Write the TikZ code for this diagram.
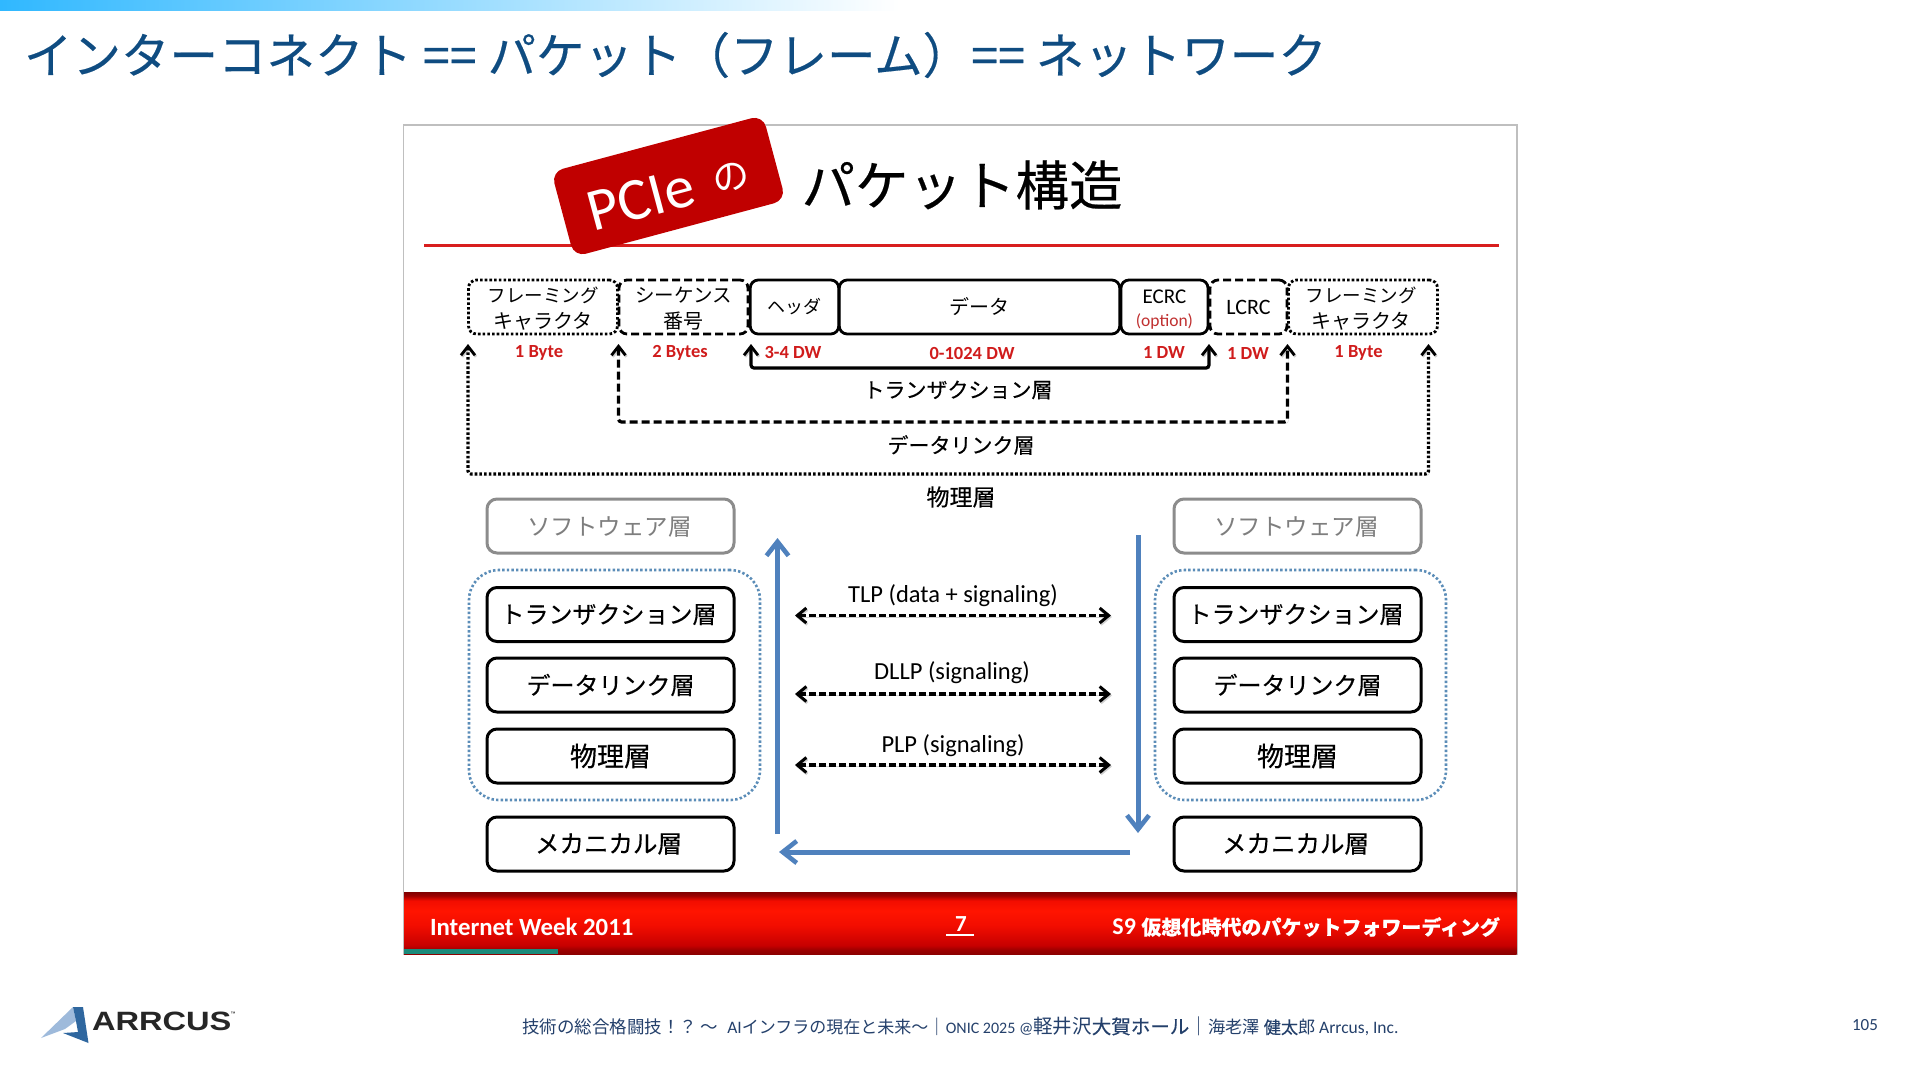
\documentclass[tikz,border=0pt]{standalone}
\usepackage{fontspec}
\setmainfont{Carlito}
\newfontfamily\jpf{Noto Sans CJK JP}
\newfontfamily\jpm[FakeBold=0.35]{Noto Sans CJK JP}
\newfontfamily\arf{Liberation Sans}
\usetikzlibrary{arrows.meta}
\newcommand{\fsz}[1]{\fontsize{#1pt}{#1pt}\selectfont}
\definecolor{titleblue}{HTML}{0F4C81}
\definecolor{footblue}{HTML}{24406B}
\definecolor{tagred}{HTML}{C00000}
\definecolor{linered}{HTML}{D81E1E}
\definecolor{lblred}{HTML}{D01C1C}
\definecolor{softgray}{HTML}{8C8C8C}
\definecolor{arrblue}{HTML}{4F81BD}
\definecolor{dotblue}{HTML}{5B8DB8}
\definecolor{teal}{HTML}{1A8A7A}
\definecolor{bandl}{HTML}{30B8FF}
\definecolor{bandm}{HTML}{A8D8FF}
\pgfdeclareverticalshading{redbar}{100bp}{rgb(0bp)=(.55,0,0);rgb(25bp)=(.55,0,0);rgb(28bp)=(.6,0,0);rgb(32bp)=(.78,0,0);rgb(48bp)=(.95,.05,0);rgb(60bp)=(1,.08,0);rgb(68bp)=(.95,.05,0);rgb(72bp)=(.62,0,0);rgb(75bp)=(.5,0,0);rgb(100bp)=(.5,0,0)}
\tikzset{
  x=1pt,y=-1pt,
  every node/.style={inner sep=0pt,outer sep=0pt},
  pkt/.style={draw=black,line width=2.8pt,rounded corners=8pt,minimum height=54pt,align=center},
  pktsolid/.style={pkt},
  pktdash/.style={pkt,dash pattern=on 8pt off 4pt},
  pktdot/.style={pkt,dash pattern=on 2.6pt off 2.1pt},
  pkttxt/.style={font=\jpf\fsz{20},align=center},
  bytes/.style={text=lblred,font=\bfseries\fsz{18.5}},
  layerlbl/.style={font=\jpm\fsz{21}},
  stackbox/.style={draw=black,line width=3pt,rounded corners=10pt,minimum width=247pt,minimum height=54pt,font=\jpm\fsz{24}},
  softbox/.style={draw=softgray,line width=3pt,rounded corners=10pt,minimum width=247pt,minimum height=54pt},
  softtxt/.style={font=\jpf\fsz{23.5},text=softgray!90!black},
  group/.style={draw=dotblue,line width=2.6pt,dash pattern=on 2.4pt off 2.2pt,rounded corners=30pt,minimum width=291pt,minimum height=230pt},
  shadowed/.style={preaction={draw=black,opacity=.18,transform canvas={shift={(1pt,-1.5pt)}}}},
  linksolid/.style={line width=3.2pt,rounded corners=3pt,{Straight Barb[length=9pt,width=14pt,line width=2.8pt]}-{Straight Barb[length=9pt,width=14pt,line width=2.8pt]},shadowed},
  linkdash/.style={linksolid,dash pattern=on 8pt off 4pt},
  linkdot/.style={linksolid,dash pattern=on 2.6pt off 2.1pt},
  peer/.style={line width=3.4pt,dash pattern=on 7pt off 3pt,{Straight Barb[length=9pt,width=15pt,line width=3pt]}-{Straight Barb[length=9pt,width=15pt,line width=3pt]},shadowed},
  peerlbl/.style={font=\fsz{24.5}},
  flow/.style={draw=arrblue,line width=5pt,-{Straight Barb[length=14pt,width=22pt,line width=4.6pt]}}
}
\begin{document}
\begin{tikzpicture}
\useasboundingbox (0,0) rectangle (1920,1080);
\fill[white] (0,0) rectangle (1920,1080);
% top band
\shade[left color=bandl,middle color=bandm,right color=white] (0,0) rectangle (900,10);
% page title
\node[anchor=west,text=titleblue,font=\jpm\fsz{48.5}] (pagetitle) at (24,55) {インターコネクト == パケット（フレーム）== ネットワーク};
% slide
\draw[draw=black!25,line width=1.5pt,fill=white] (403.5,125) rectangle (1517,954);
\draw[draw=linered,line width=3.5pt] (424,245.5) -- (1499,245.5);
\node[fill=tagred,rounded corners=12pt,rotate=15,minimum width=219pt,minimum height=88pt] (tag) at (668.5,186) {};
\node[rotate=15,text=white,font=\fsz{60}] (tagpcie) at (641,199) {PCIe};
\node[rotate=15,text=white,font=\jpf\fsz{37}] (tagno) at (731,177) {の};
\node[font=\jpm\fsz{53.5}] (slidetitle) at (962,185) {パケット構造};
% packet row
\node[pktdot,minimum width=149pt] (f1) at (543,307) {};
\node[pkttxt] (f1t) at (543,308.5) {\fsz{18.5}フレーミング\\[6pt]キャラクタ};
\node[pktdash,minimum width=129pt] (seq) at (683.5,307) {};
\node[pkttxt] (seqt) at (683.5,308.5) {\fsz{19.5}シーケンス\\[6pt]番号};
\node[pktsolid,minimum width=88.5pt,font=\jpf\fsz{18}] (hdr) at (794.5,307) {ヘッダ};
\node[pktsolid,minimum width=280.5pt,font=\jpf\fsz{20}] (data) at (979.5,307) {データ};
\node[pktsolid,minimum width=87pt] (ecrc) at (1164.5,307) {};
\node[font=\fsz{21},align=center] (ecrct) at (1164.5,310) {ECRC\\[2pt]{\fsz{17.5}\color{lblred!80!gray}(option)}};
\node[pktdash,minimum width=77pt,font=\fsz{22}] (lcrc) at (1248.5,307) {LCRC};
\node[pktdot,minimum width=149pt] (f2) at (1363,307) {};
\node[pkttxt] (f2t) at (1361,308.5) {\fsz{18.5}フレーミング\\[6pt]キャラクタ};
% byte labels
\node[bytes] (b1) at (539,353) {1 Byte};
\node[bytes] (b2) at (680,353) {2 Bytes};
\node[bytes] (b3) at (793,352) {3-4 DW};
\node[bytes] (b4) at (972,353) {0-1024 DW};
\node[bytes] (b5) at (1164,352) {1 DW};
\node[bytes] (b6) at (1248,353) {1 DW};
\node[bytes] (b7) at (1358.5,353) {1 Byte};
% scope connectors
\coordinate (tl1) at (751,344); \coordinate (bl1) at (751,368);
\coordinate (br1) at (1209,368); \coordinate (tr1) at (1209,344);
\coordinate (tl2) at (618.5,344); \coordinate (bl2) at (618.5,422);
\coordinate (br2) at (1287.5,422); \coordinate (tr2) at (1287.5,344);
\coordinate (tl3) at (468,344); \coordinate (bl3) at (468,474);
\coordinate (br3) at (1428.5,474); \coordinate (tr3) at (1428.5,344);
\draw[linksolid] (tl1) -- (bl1) -- (br1) -- (tr1);
\draw[linkdash] (tl2) -- (bl2) -- (br2) -- (tr2);
\draw[linkdot] (tl3) -- (bl3) -- (br3) -- (tr3);
\node[layerlbl] (ltr) at (958,390) {トランザクション層};
\node[layerlbl] (ldl) at (961,445) {データリンク層};
\node[layerlbl,font=\jpm\fsz{23}] (lph) at (961,497) {物理層};
% left stack
\node[group] (gl) at (614.5,685) {};
\node[softbox] (sl) at (610.5,526) {};
\node[softtxt] (slt) at (609.5,527) {ソフトウェア層};
\node[stackbox,font=\jpm\fsz{24},text width=241pt,align=center] (trl) at (610.5,614.5) {\hspace{-4pt}トランザクション層};
\node[stackbox] (dll) at (610.5,685) {データリンク層};
\node[stackbox,font=\jpm\fsz{27}] (phl) at (610.5,756) {物理層};
\node[stackbox,font=\jpm\fsz{24.5}] (mel) at (610.5,844) {\hspace{-4pt}メカニカル層};
% right stack
\node[group] (gr) at (1300.5,685) {};
\node[softbox] (sr) at (1297.5,526) {};
\node[softtxt] (srt) at (1296.5,527) {ソフトウェア層};
\node[stackbox,font=\jpm\fsz{24},text width=241pt,align=center] (trr) at (1297.5,614.5) {\hspace{-4pt}トランザクション層};
\node[stackbox] (dlr) at (1297.5,685) {データリンク層};
\node[stackbox,font=\jpm\fsz{27}] (phr) at (1297.5,756) {物理層};
\node[stackbox,font=\jpm\fsz{24.5}] (mer) at (1297.5,844) {\hspace{-4pt}メカニカル層};
% peer arrows
\coordinate (p1a) at (795,615.5); \coordinate (p1b) at (1111,615.5);
\coordinate (p2a) at (795,694); \coordinate (p2b) at (1111,694);
\coordinate (p3a) at (795,765); \coordinate (p3b) at (1111,765);
\draw[peer] (p1a) -- (p1b);
\draw[peer] (p2a) -- (p2b);
\draw[peer] (p3a) -- (p3b);
\node[peerlbl] (ptlp) at (953,596) {TLP (data + signaling)};
\node[peerlbl] (pdll) at (952,673) {DLLP (signaling)};
\node[peerlbl] (pplp) at (953,746) {PLP (signaling)};
% flow arrows
\coordinate (fu0) at (777.5,834); \coordinate (fu1) at (777.5,538);
\coordinate (fd0) at (1138,535); \coordinate (fd1) at (1138,833);
\coordinate (fl0) at (1130,852); \coordinate (fl1) at (779,852);
\draw[flow] (fu0) -- (fu1);
\draw[flow] (fd0) -- (fd1);
\draw[flow] (fl0) -- (fl1);
% footer bar
\shade[shading=redbar] (404,892) rectangle (1516.5,954);
\fill[teal] (404,949) rectangle (558,954);
\node[text=white,font=\bfseries\fsz{24.8},anchor=west] (iw) at (430,926.5) {Internet Week 2011};
\node[text=white,font=\bfseries\fsz{23}] (pg7) at (961,924) {7};
\draw[white,line width=2pt] (946,935) -- (974,935);
\node[text=white,anchor=east,font=\bfseries\fsz{24}] (s9) at (1500,927) {S9 {\jpm\fsz{20}仮想化時代のパケットフォワーディング}};
% footer
\node[text=footblue,font=\fsz{17.5},anchor=west] (foot) at (522,1026.5) {{\jpf 技術の総合格闘技！？ 〜 }\hspace{5pt}AI{\jpf\fsz{17}インフラの現在と未来〜}{\jpf｜}{\fsz{16}ONIC 2025 @}{\jpf\fsz{19.5}軽井沢}{\jpm\fsz{19.5}大賀ホール}{\jpf\fsz{19}｜}{\jpf\fsz{17.2}海老澤 }{\jpm\fsz{17.2}健太}{\jpf\fsz{17.2}郎 }Arrcus, Inc.};
\node[text=footblue,font=\fsz{17}] (pno) at (1865,1025) {105};
% logo
\fill[arrblue!55!white] (73,1007) -- (41,1038) -- (65,1029) -- (76,1021) -- cycle;
\fill[arrblue!50!titleblue] (73,1007) -- (83,1007) -- (88.5,1043) -- (63,1033) -- (78,1032) -- (76,1021) -- cycle;
\node[anchor=west,font=\arf\bfseries\fsz{26.5},text=black!85,xscale=1.23] (logo) at (92,1021.5) {ARRCUS};
\node[font=\arf\fsz{5}] (tm) at (233,1014) {™};
\end{tikzpicture}
\end{document}
